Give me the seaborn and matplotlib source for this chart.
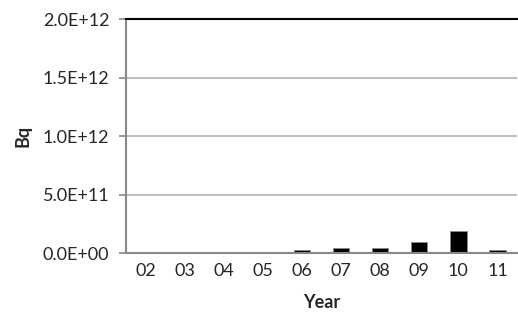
import matplotlib
matplotlib.use("Agg")
import matplotlib.pyplot as plt
import seaborn as sns
import pandas as pd

years = ["02", "03", "04", "05", "06", "07", "08", "09", "10", "11"]
values = [1.0e9, 1.0e9, 1.0e9, 1.0e9, 2.5e10, 4.0e10, 4.0e10, 9.2e10, 1.85e11, 2.5e10]

sns.set_theme(style="white")
plt.rcParams['font.family'] = ['Lato', 'DejaVu Sans']

df = pd.DataFrame({"Year": years, "Bq": values})
fig = plt.figure(figsize=(5.18, 3.25), dpi=100)
ax = fig.add_axes([0.243, 0.2215, 0.755, 0.72])
sns.barplot(data=df, x="Year", y="Bq", color="black", width=0.42, ax=ax,
            edgecolor="#888888", linewidth=0.6)
ax.set_ylim(0, 2.0e12)
ax.set_yticks([0, 5e11, 1e12, 1.5e12, 2e12])
ax.set_yticklabels(["0.0E+00", "5.0E+11", "1.0E+12", "1.5E+12", "2.0E+12"], fontsize=13)
ax.tick_params(axis="x", labelsize=13, length=0, pad=7)
ax.tick_params(axis="y", length=5, width=1.2, color="#888888", direction="out", left=True, pad=7)
ax.yaxis.grid(True, color="#c0c0c0", linewidth=1.5)
ax.set_axisbelow(True)
ax.spines["right"].set_visible(False)
ax.spines["top"].set_color("black")
ax.spines["top"].set_linewidth(1.5)
ax.spines["left"].set_color("#888888")
ax.spines["left"].set_linewidth(1.5)
ax.spines["bottom"].set_color("#888888")
ax.spines["bottom"].set_linewidth(1.5)
ax.set_xlabel("Year", fontsize=13, fontweight="bold", labelpad=11)
ax.set_ylabel("Bq", fontsize=13, fontweight="bold", labelpad=8)
ax.set_xlim(-0.5, 9.5)
fig.savefig("out.png", dpi=100)
